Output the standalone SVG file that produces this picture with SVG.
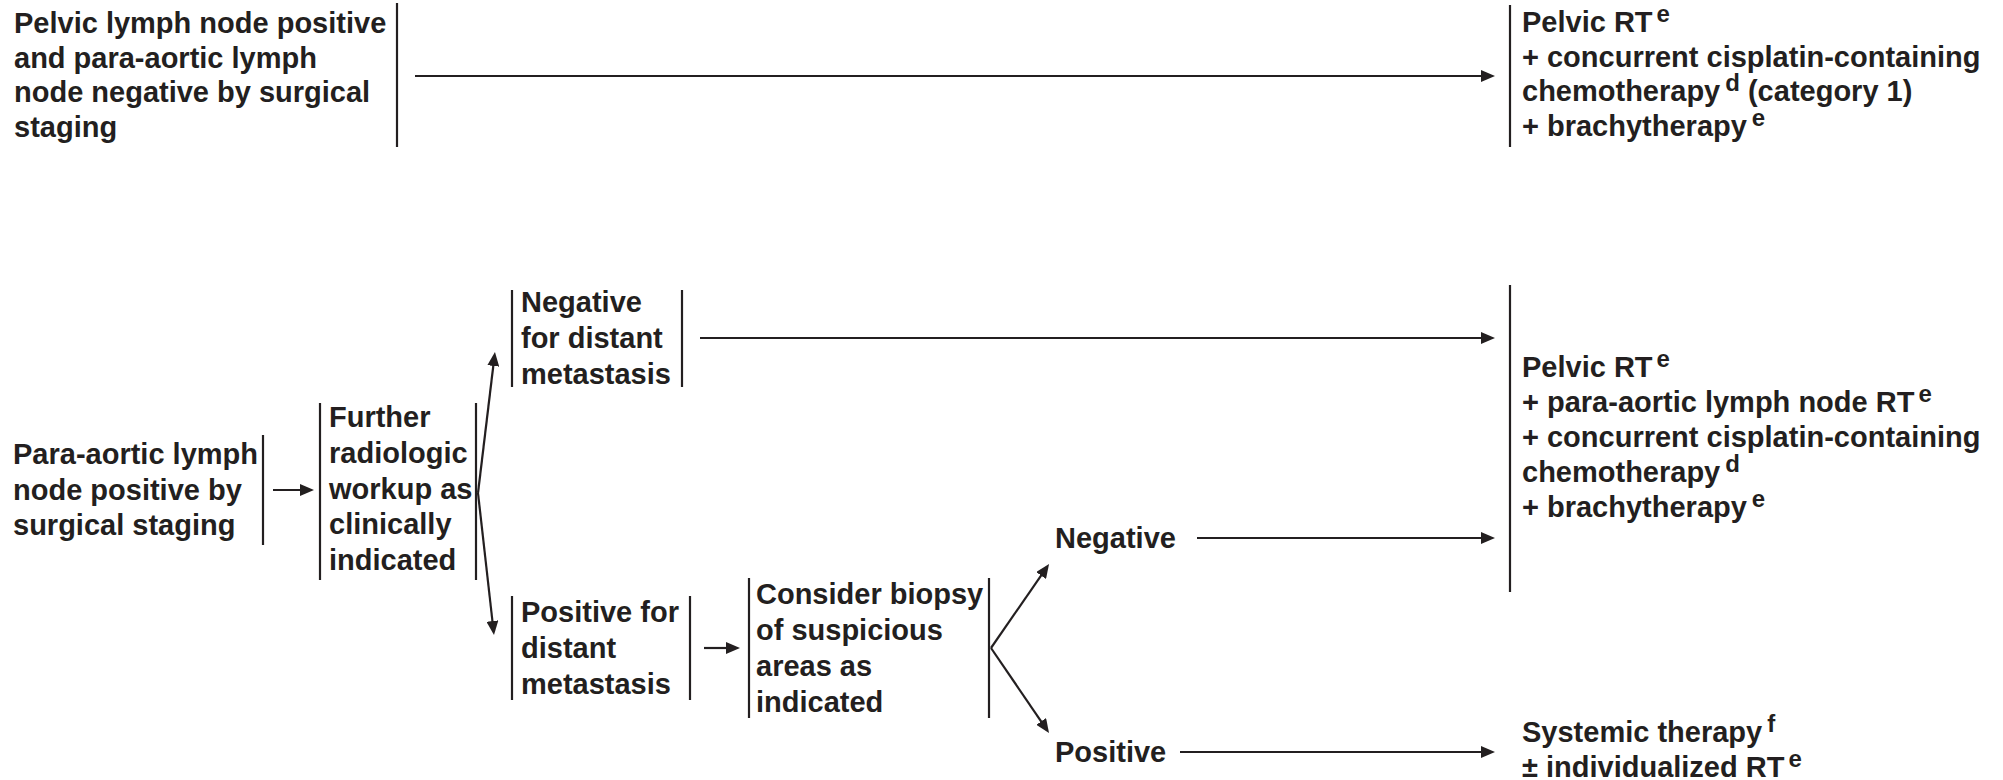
<svg xmlns="http://www.w3.org/2000/svg" width="2003" height="780" viewBox="0 0 2003 780">
<style>
  text { font-family: "Liberation Sans", Arial, sans-serif; font-weight: bold; font-size: 29px; fill: #231f20; }
  .sup { font-size: 24px; }
  .bar { stroke: #231f20; stroke-width: 2.2; fill: none; }
  .conn line { stroke: #231f20; stroke-width: 2.2; fill: none; marker-end: url(#ah); }
</style>
<defs>
  <marker id="ah" viewBox="0 0 14 12" refX="6" refY="6" markerWidth="14" markerHeight="12" markerUnits="userSpaceOnUse" orient="auto">
    <path d="M0,0 L14,6 L0,12 z" fill="#231f20"/>
  </marker>
</defs>
<rect width="2003" height="780" fill="#ffffff"/>

<g id="node-pelvic-positive">
  <text x="14" y="33">Pelvic lymph node positive</text>
  <text x="14" y="67.5">and para-aortic lymph</text>
  <text x="14" y="102">node negative by surgical</text>
  <text x="14" y="136.5">staging</text>
  <line class="bar" x1="397" y1="3" x2="397" y2="147"/>
</g>

<g id="node-pelvic-rt-top">
  <line class="bar" x1="1510" y1="5" x2="1510" y2="147"/>
  <text x="1522" y="32">Pelvic RT<tspan class="sup" dx="4" dy="-10">e</tspan></text>
  <text x="1522" y="66.5">+ concurrent cisplatin-containing</text>
  <text x="1522" y="101">chemotherapy<tspan class="sup" dx="5" dy="-10">d</tspan><tspan dy="10"> (category 1)</tspan></text>
  <text x="1522" y="135.5">+ brachytherapy<tspan class="sup" dx="5" dy="-10">e</tspan></text>
</g>

<g id="node-para-aortic">
  <text x="13" y="464">Para-aortic lymph</text>
  <text x="13" y="499.5">node positive by</text>
  <text x="13" y="535">surgical staging</text>
  <line class="bar" x1="263" y1="435" x2="263" y2="545"/>
</g>

<g id="node-further">
  <line class="bar" x1="320" y1="403" x2="320" y2="580"/>
  <text x="329" y="427">Further</text>
  <text x="329" y="463">radiologic</text>
  <text x="329" y="498.5">workup as</text>
  <text x="329" y="534">clinically</text>
  <text x="329" y="570">indicated</text>
  <line class="bar" x1="476" y1="403" x2="476" y2="580"/>
</g>

<g id="node-negative-distant">
  <line class="bar" x1="512" y1="290" x2="512" y2="387"/>
  <text x="521" y="312">Negative</text>
  <text x="521" y="348">for distant</text>
  <text x="521" y="384">metastasis</text>
  <line class="bar" x1="682" y1="290" x2="682" y2="387"/>
</g>

<g id="node-positive-distant">
  <line class="bar" x1="512" y1="596" x2="512" y2="700"/>
  <text x="521" y="622">Positive for</text>
  <text x="521" y="658">distant</text>
  <text x="521" y="694">metastasis</text>
  <line class="bar" x1="690" y1="596" x2="690" y2="700"/>
</g>

<g id="node-biopsy">
  <line class="bar" x1="749" y1="578" x2="749" y2="718"/>
  <text x="756" y="604">Consider biopsy</text>
  <text x="756" y="640">of suspicious</text>
  <text x="756" y="676">areas as</text>
  <text x="756" y="712">indicated</text>
  <line class="bar" x1="989" y1="578" x2="989" y2="718"/>
</g>

<g id="node-negative">
  <text x="1055" y="548">Negative</text>
</g>

<g id="node-positive">
  <text x="1055" y="762">Positive</text>
</g>

<g id="node-pelvic-rt-para-aortic">
  <line class="bar" x1="1510" y1="285" x2="1510" y2="592"/>
  <text x="1522" y="377">Pelvic RT<tspan class="sup" dx="4" dy="-10">e</tspan></text>
  <text x="1522" y="412">+ para-aortic lymph node RT<tspan class="sup" dx="4" dy="-10">e</tspan></text>
  <text x="1522" y="447">+ concurrent cisplatin-containing</text>
  <text x="1522" y="482">chemotherapy<tspan class="sup" dx="5" dy="-10">d</tspan></text>
  <text x="1522" y="517">+ brachytherapy<tspan class="sup" dx="5" dy="-10">e</tspan></text>
</g>

<g id="node-systemic">
  <text x="1522" y="742">Systemic therapy<tspan class="sup" dx="5" dy="-10">f</tspan></text>
  <text x="1522" y="777">± individualized RT<tspan class="sup" dx="4" dy="-10">e</tspan></text>
</g>

<g id="connectors" class="conn">
  <line x1="415" y1="76" x2="1487" y2="76"/>
  <line x1="273" y1="490" x2="306" y2="490"/>
  <line x1="478" y1="493" x2="494" y2="360"/>
  <line x1="478" y1="493" x2="493.1" y2="627"/>
  <line x1="700" y1="338" x2="1487" y2="338"/>
  <line x1="704" y1="648" x2="732" y2="648"/>
  <line x1="991" y1="648" x2="1044.5" y2="570.6"/>
  <line x1="991" y1="648" x2="1044.5" y2="726.4"/>
  <line x1="1197" y1="538" x2="1487" y2="538"/>
  <line x1="1180" y1="752" x2="1487" y2="752"/>
</g>
</svg>
